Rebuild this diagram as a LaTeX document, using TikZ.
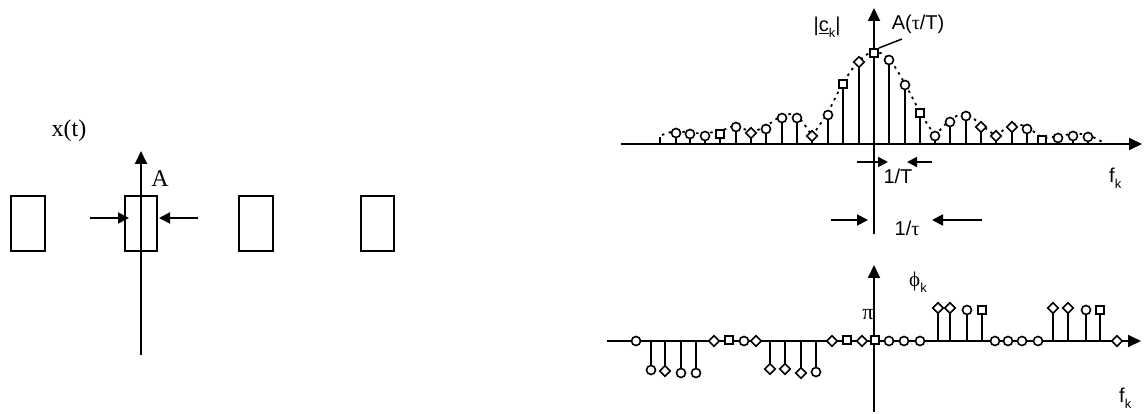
\documentclass[tikz,border=0pt]{standalone}
\usepackage{fontspec}
\setmainfont{Liberation Sans}
\newfontfamily\tms{Liberation Serif}
\usetikzlibrary{arrows.meta,shapes.geometric}
\begin{document}
\begin{tikzpicture}[x=1pt,y=-1pt,
  ln/.style={line width=1.8pt},
  ax/.style={line width=1.8pt,-{Triangle[length=13pt,width=12pt]}},
  arr/.style={line width=1.8pt,-{Triangle[length=11pt,width=11pt]}},
  sarr/.style={line width=1.8pt,-{Triangle[length=10pt,width=10pt]}},
  mo/.style={circle,draw,fill=white,line width=1.6pt,inner sep=0pt,minimum size=9pt},
  ms/.style={rectangle,draw,fill=white,line width=1.6pt,inner sep=0pt,minimum size=8.5pt},
  md/.style={diamond,draw,fill=white,line width=1.6pt,inner sep=0pt,minimum size=11pt},
  env/.style={line width=1.8pt,dash pattern=on 2.5pt off 4.5pt},
  pulse/.style={draw,line width=1.8pt,inner sep=0pt,minimum height=55pt},
  lbl/.style={inner sep=0pt,font=\fontsize{20}{20}\selectfont},
  slbl/.style={inner sep=0pt,font=\tms\fontsize{24}{24}\selectfont}
]
\useasboundingbox (0,0) rectangle (1144,414);

% ---------------- left: pulse train ----------------
\coordinate (lyb) at (141,355);
\coordinate (lyt) at (141,151);
\node[pulse,minimum width=34pt] (r1) at (28,223.5) {};
\node[pulse,minimum width=32pt] (r2) at (141,223.5) {};
\node[pulse,minimum width=34pt] (r3) at (256,223.5) {};
\node[pulse,minimum width=33pt] (r4) at (377.5,223.5) {};
\draw[ax] (lyb) -- (lyt);
\coordinate (wl0) at (90,218);  \coordinate (wl1) at (129,218);
\coordinate (wr0) at (198,218); \coordinate (wr1) at (159,218);
\draw[arr] (wl0) -- (wl1);
\draw[arr] (wr0) -- (wr1);
\node[slbl] (xt) at (69,131) {x(t)};
\node[slbl] (amp) at (160,179) {A};

% ---------------- top right: magnitude spectrum ----------------
\coordinate (hx0) at (621,144); \coordinate (hx1) at (1142,144);
\coordinate (vy0) at (874,234); \coordinate (vy1) at (874,8);
\draw[ax] (hx0) -- (hx1);
\draw[ax] (vy0) -- (vy1);

% envelope
\draw[env] plot[smooth,tension=0.6] coordinates {(662,135) (676,131) (690,133) (705,133) (720,131) (736,126) (751,133)};
\draw[env] plot[smooth,tension=0.6] coordinates {(751,133) (766,126) (782,116) (797,116) (812,136)};
\draw[env] plot[smooth,tension=0.6] coordinates {(812,136) (828,112) (843,83) (859,61) (874,52) (889,59) (905,84) (920,112) (935,136)};
\draw[env] plot[smooth,tension=0.6] coordinates {(935,136) (950,120) (966,114) (981,125) (996,136)};
\draw[env] plot[smooth,tension=0.6] coordinates {(996,136) (1012,125) (1027,127) (1042,137) (1058,136) (1073,134) (1088,135) (1104,143)};

\coordinate (tk0) at (660,144); \coordinate (tk1) at (660,137);
\draw[ln] (tk0) -- (tk1);
\foreach \x/\y in {676/133,690/134,705/136,736/127,766/129,782/118,797/118,828/115,889/60,905/85,935/136,950/122,966/116,1027/129,1058/138,1073/136,1088/137}
  {\draw[ln] (\x,144) -- (\x,\y); \node[mo] (co\x) at (\x,\y) {};}
\foreach \x/\y in {720/134,843/84,874/53,920/113,1042/140}
  {\draw[ln] (\x,144) -- (\x,\y); \node[ms] (cs\x) at (\x,\y) {};}
\foreach \x/\y in {751/133,812/136,859/62,981/127,996/136,1012/127}
  {\draw[ln] (\x,144) -- (\x,\y); \node[md] (cd\x) at (\x,\y) {};}

\node[lbl] (ck) at (827,27) {|\underline{c}\raisebox{-0.3em}{\fontsize{13}{13}\selectfont k}|};
\node[lbl] (peak) at (918,24) {A({\tms τ}/T)};
\coordinate (ld0) at (879,48); \coordinate (ld1) at (902,39);
\draw[line width=1.5pt] (ld0) -- (ld1);

\coordinate (p0) at (857,162); \coordinate (p1) at (888,162);
\coordinate (q0) at (932,162); \coordinate (q1) at (907,162);
\draw[sarr] (p0) -- (p1);
\draw[sarr] (q0) -- (q1);
\node[lbl] (invT) at (898,176) {1/T};
\coordinate (s0) at (831,220); \coordinate (s1) at (868,220);
\coordinate (u0) at (982,220); \coordinate (u1) at (932,220);
\draw[arr] (s0) -- (s1);
\draw[arr] (u0) -- (u1);
\node[lbl] (invtau) at (907,228) {1/{\tms τ}};
\node[lbl,anchor=base west] (fk1) at (1109,183) {f\raisebox{-6pt}{\fontsize{13}{13}\selectfont k}};

% ---------------- bottom right: phase spectrum ----------------
\coordinate (bx0) at (607,341); \coordinate (bx1) at (1141,341);
\coordinate (by0) at (874,412); \coordinate (by1) at (874,265);
\draw[ax] (bx0) -- (bx1);
\draw[ax] (by0) -- (by1);

\foreach \x/\y in {651/370,681/373,696/373,816/372,967/310,1086/310}
  {\draw[ln] (\x,341) -- (\x,\y); \node[mo] (po\x) at (\x,\y) {};}
\foreach \x/\y in {665/371,770/369,785/369,801/373,938/308,950/308,1053/308,1068/308}
  {\draw[ln] (\x,341) -- (\x,\y); \node[md] (pd\x) at (\x,\y) {};}
\foreach \x/\y in {982/310,1100/310}
  {\draw[ln] (\x,341) -- (\x,\y); \node[ms] (ps\x) at (\x,\y) {};}
\foreach \x in {636,744,889,904,920,995,1008,1022,1038}
  {\node[mo] (ao\x) at (\x,341) {};}
\foreach \x in {714,756,832,862,1117}
  {\node[md] (ad\x) at (\x,341) {};}
\foreach \x in {729,847,875}
  {\node[ms] (as\x) at (\x,340) {};}

\node[inner sep=0pt,font=\tms\fontsize{22}{22}\selectfont] (pi) at (868,315) {π};
\node[inner sep=0pt,anchor=base west] (phk) at (909,287) {{\tms\fontsize{21}{21}\selectfont ϕ}\raisebox{-6pt}{\fontsize{13}{13}\selectfont k}};
\node[lbl,anchor=base west] (fk2) at (1119,402) {f\raisebox{-6pt}{\fontsize{13}{13}\selectfont k}};
\end{tikzpicture}
\end{document}
